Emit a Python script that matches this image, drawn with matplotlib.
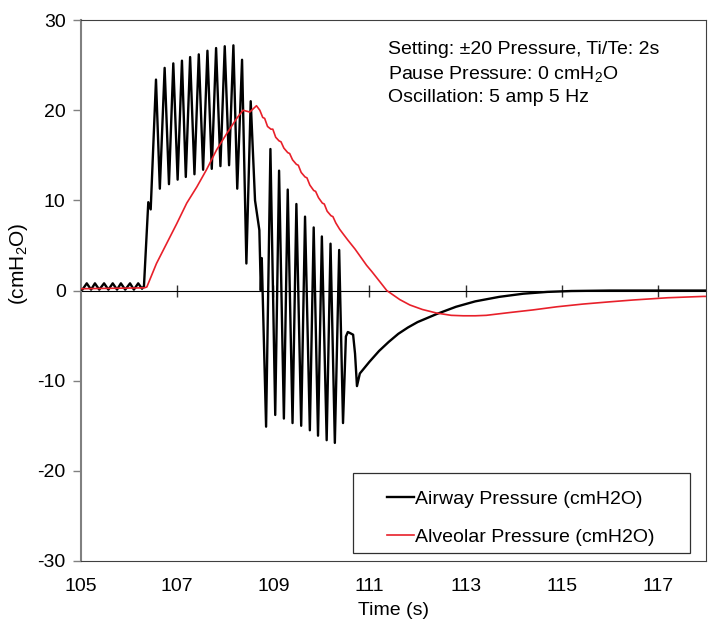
import matplotlib
matplotlib.use("Agg")
import matplotlib.pyplot as plt
from matplotlib.patches import Rectangle

plt.rcParams['font.family'] = ['Liberation Sans', 'DejaVu Sans']
plt.rcParams['mathtext.fontset'] = 'custom'
plt.rcParams['mathtext.rm'] = 'Liberation Sans'
plt.rcParams['mathtext.it'] = 'Liberation Sans:italic'
plt.rcParams['axes.unicode_minus'] = False

# airway pressure (cmH2O) vs time (s)
airway_t = [105.00, 105.03, 105.12, 105.21, 105.29, 105.38, 105.48, 105.57, 105.66,
            105.75, 105.83, 105.92, 106.02, 106.10, 106.19, 106.27, 106.31, 106.40,
            106.45, 106.56, 106.64, 106.74, 106.83, 106.92, 107.01, 107.10, 107.18,
            107.27, 107.36, 107.45, 107.54, 107.63, 107.72, 107.81, 107.90, 107.99,
            108.08, 108.17, 108.25, 108.35, 108.44, 108.53, 108.62, 108.71, 108.74,
            108.76, 108.85, 108.94, 109.04, 109.12, 109.22, 109.30, 109.40, 109.48,
            109.58, 109.66, 109.76, 109.84, 109.93, 110.01, 110.11, 110.19, 110.28,
            110.37, 110.45, 110.51, 110.55, 110.59, 110.66, 110.70, 110.74, 110.80,
            111.00, 111.20, 111.40, 111.60, 111.80, 112.00, 112.40, 112.80, 113.20,
            113.70, 114.20, 114.70, 115.20, 116.00, 118.00]
airway_p = [0.1, 0.1, 0.8, 0.1, 0.8, 0.1, 0.8, 0.1, 0.8,
            0.1, 0.8, 0.1, 0.8, 0.1, 0.8, 0.2, 0.5, 9.8,
            9.0, 23.4, 11.3, 24.7, 11.8, 25.2, 12.3, 25.5, 12.6,
            25.9, 12.9, 26.2, 13.4, 26.6, 13.5, 26.9, 13.8, 27.1,
            13.9, 27.2, 11.3, 25.6, 3.0, 21.0, 10.0, 6.7, 0.0,
            3.6, -15.1, 15.7, -13.8, 13.3, -14.2, 11.2, -14.7, 9.6,
            -15.0, 8.2, -15.5, 7.0, -16.1, 6.0, -16.6, 5.2, -16.9,
            4.5, -14.7, -5.1, -4.6, -4.7, -4.9, -7.0, -10.6, -9.2,
            -7.9, -6.7, -5.7, -4.8, -4.1, -3.5, -2.6, -1.8, -1.2,
            -0.7, -0.35, -0.15, -0.05, 0.0, 0.0]

# alveolar pressure (cmH2O) vs time (s)
alveolar_t = [105.00, 106.32, 106.37, 106.57, 106.78, 106.99, 107.20, 107.41, 107.61,
              107.82, 108.03, 108.24, 108.37, 108.51, 108.65, 108.72, 108.78, 108.82,
              108.88, 108.95, 108.99, 109.05, 109.12, 109.16, 109.22, 109.30, 109.34,
              109.40, 109.48, 109.52, 109.58, 109.66, 109.70, 109.76, 109.84, 109.88,
              109.94, 110.02, 110.06, 110.12, 110.20, 110.24, 110.30, 110.38, 110.45,
              110.55, 110.70, 110.82, 110.94, 111.05, 111.25, 111.36, 111.63, 111.84,
              112.10, 112.40, 112.70, 112.95, 113.20, 113.43, 113.90, 114.40, 114.90,
              115.44, 116.00, 116.48, 117.20, 117.95, 118.00]
alveolar_p = [0.2, 0.3, 0.4, 3.0, 5.2, 7.4, 9.7, 11.5, 13.4,
              15.6, 17.4, 19.1, 20.0, 19.8, 20.5, 20.0, 19.2, 19.1,
              18.2, 17.9, 17.9, 17.0, 16.6, 16.5, 15.8, 15.3, 15.2,
              14.5, 14.0, 13.9, 13.1, 12.6, 12.5, 11.7, 11.1, 11.0,
              10.3, 9.7, 9.6, 8.8, 8.3, 8.2, 7.5, 6.8, 6.3,
              5.6, 4.6, 3.7, 2.8, 2.1, 0.75, 0.0, -1.0, -1.6,
              -2.1, -2.5, -2.75, -2.8, -2.8, -2.75, -2.45, -2.15, -1.8,
              -1.5, -1.25, -1.05, -0.8, -0.65, -0.65]

x_ticks = [105, 107, 109, 111, 113, 115, 117]
y_ticks = [-30, -20, -10, 0, 10, 20, 30]
notes = ["Setting: \u00b120 Pressure, Ti/Te: 2s",
         "Pause Pressure: 0 cmH$_\\mathrm{2}$O",
         "Oscillation: 5 amp 5 Hz"]

fig = plt.figure(figsize=(7.11, 6.28), dpi=100)
ax = fig.add_axes([0.1139, 0.1067, 0.993 - 0.1139, 0.968 - 0.1067])

ax.plot(airway_t, airway_p, color='black', lw=1.7, label='Airway Pressure (cmH2O)', zorder=3)
ax.plot(alveolar_t, alveolar_p, color='#e8202a', lw=1.2, label='Alveolar Pressure (cmH2O)', zorder=4)

ax.set_xlim(105, 118)
ax.set_ylim(-30, 30)

# frame
for s in ['top', 'right', 'bottom']:
    ax.spines[s].set_color('#404040')
    ax.spines[s].set_linewidth(0.8)
ax.spines['left'].set_color('#808080')
ax.spines['left'].set_linewidth(1.5)

ax.set_xticks(x_ticks)
ax.tick_params(axis='x', length=0, pad=12, labelsize=14)
ax.set_yticks(y_ticks)
ax.tick_params(axis='y', direction='out', length=6, width=1.0, color='#808080', labelsize=14, pad=5)

# zero line with crossing ticks
zero = ax.secondary_xaxis(0.5)
zero.set_xticks(x_ticks[1:])
zero.set_xticklabels([])
zero.tick_params(direction='inout', length=9, width=1.0, color='#303030',
                 labelbottom=False, labeltop=False)
zero.spines['bottom'].set_color('#595959')
zero.spines['bottom'].set_linewidth(1.5)

ax.set_xlabel('Time (s)', fontsize=14, labelpad=5)
ax.set_ylabel('(cmH$_\\mathrm{2}$O)', fontsize=15)
ax.yaxis.set_label_coords(-0.082, 0.55)

ax.text(0.491, 0.962, "\n".join(notes), transform=ax.transAxes, fontsize=14,
        va='top', ha='left', linespacing=1.42)

# legend box
ax.add_patch(Rectangle((0.435, 0.0148), 0.539, 0.148, transform=ax.transAxes,
                       facecolor='white', edgecolor='#303030', lw=0.9, zorder=5))
leg = ax.legend(loc='upper left', bbox_to_anchor=(0.49, 0.131), frameon=False,
                fontsize=14, handlelength=1.35, handletextpad=0.1,
                labelspacing=1.05, borderpad=0, borderaxespad=0)
leg.set_zorder(6)

fig.savefig('out.png', dpi=100)
